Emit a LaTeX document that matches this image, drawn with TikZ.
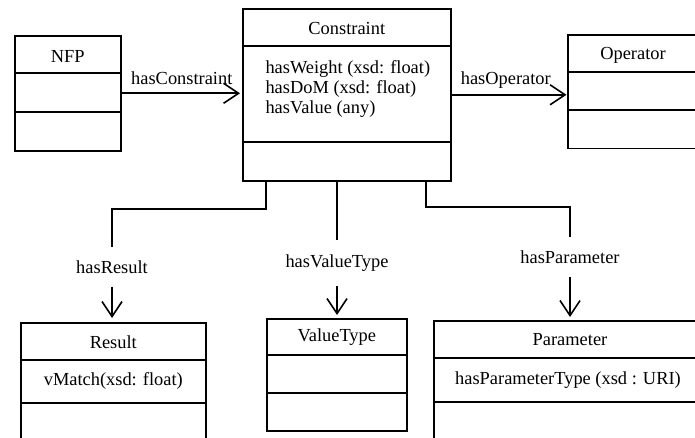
\documentclass[tikz,border=0pt]{standalone}
\usepackage{fontspec}
\setmainfont{Liberation Serif}
\usetikzlibrary{arrows.meta}
\begin{document}
\begin{tikzpicture}[x=1pt,y=-1pt,
  every node/.style={font=\fontsize{18.4}{20}\selectfont},
  cls/.style={draw, line width=1.6pt, rectangle, inner sep=0pt, anchor=north west},
  clsopen/.style={rectangle, inner sep=0pt, anchor=north west},
  divline/.style={line width=1.6pt},
  conn/.style={line width=1.6pt},
  arr/.style={conn, -{Straight Barb[length=15pt,width=20pt]}},
  lbl/.style={inner sep=0pt}
]
\useasboundingbox (0,0) rectangle (695,438);
\clip (0,0) rectangle (695,438);

% class boxes
\node[cls, minimum width=106pt, minimum height=115pt] (nfp) at (14,35) {};
\node[cls, minimum width=208pt, minimum height=172pt] (constraint) at (242,8) {};
\node[clsopen, minimum width=200pt, minimum height=113pt] (operator) at (568,35) {};
\draw[divline] (operator.north east) -- (operator.north west) -- (operator.south west) -- (operator.south east);
\node[cls, minimum width=185pt, minimum height=124pt] (result) at (20,322) {};
\node[cls, minimum width=140pt, minimum height=112pt] (valuetype) at (266,318) {};
\node[clsopen, minimum width=330pt, minimum height=124pt] (parameter) at (434,321) {};
\draw[divline] (parameter.north east) -- (parameter.north west) -- (parameter.south west);

% compartments
\draw[divline] ([yshift=-38pt]nfp.north west) -- ([yshift=-38pt]nfp.north east);
\draw[divline] ([yshift=-77pt]nfp.north west) -- ([yshift=-77pt]nfp.north east);
\draw[divline] ([yshift=-38pt]constraint.north west) -- ([yshift=-38pt]constraint.north east);
\draw[divline] ([yshift=-134pt]constraint.north west) -- ([yshift=-134pt]constraint.north east);
\draw[divline] ([yshift=-37pt]operator.north west) -- ([yshift=-37pt]operator.north east);
\draw[divline] ([yshift=-75pt]operator.north west) -- ([yshift=-75pt]operator.north east);
\draw[divline] ([yshift=-38pt]result.north west) -- ([yshift=-38pt]result.north east);
\draw[divline] ([yshift=-81pt]result.north west) -- ([yshift=-81pt]result.north east);
\draw[divline] ([yshift=-37pt]valuetype.north west) -- ([yshift=-37pt]valuetype.north east);
\draw[divline] ([yshift=-75pt]valuetype.north west) -- ([yshift=-75pt]valuetype.north east);
\draw[divline] ([yshift=-37pt]parameter.north west) -- ([yshift=-37pt]parameter.north east);
\draw[divline] ([yshift=-81pt]parameter.north west) -- ([yshift=-81pt]parameter.north east);

% titles and attributes
\node (nfpT) at ([yshift=-21pt]nfp.north) {NFP};
\node (constraintT) at ([yshift=-21pt]constraint.north) {Constraint};
\node[anchor=base west] (a1) at (262,74) {hasWeight (xsd: float)};
\node[anchor=base west] (a2) at (262,94) {hasDoM (xsd: float)};
\node[anchor=base west] (a3) at (262,114) {hasValue (any)};
\node (operatorT) at ([xshift=65pt,yshift=-20pt]operator.north west) {Operator};
\node (resultT) at ([yshift=-20pt]result.north) {Result};
\node (resultA) at ([yshift=-59pt]result.north) {vMatch(xsd: float)};
\node (valuetypeT) at ([yshift=-19pt]valuetype.north) {ValueType};
\node (parameterT) at ([xshift=136pt,yshift=-19pt]parameter.north west) {Parameter};
\node (parameterA) at ([xshift=134pt,yshift=-59pt]parameter.north west) {hasParameterType (xsd : URI)};

% horizontal associations
\draw[arr, shorten >=2pt] (nfp.east) -- node[midway, anchor=base, yshift=9pt] {hasConstraint} (nfp.east -| constraint.west);
\draw[arr, shorten >=1.5pt] (constraint.east) -- node[midway, anchor=base, yshift=10pt, xshift=-4pt] {hasOperator} (constraint.east -| operator.west);

% vertical associations
\node[lbl, minimum height=39pt] (lres) at (112,267) {hasResult};
\node[lbl, minimum height=46pt] (lvt) at (337,263) {hasValueType};
\node[lbl, minimum height=39pt] (lpar) at (570,257) {hasParameter};
\coordinate (k1) at (266,209);
\coordinate (k2) at (426,207);

\draw[conn] (constraint.south -| k1) -- (k1) -| (lres.north);
\draw[conn] (constraint.south -| lvt.north) -- (lvt.north);
\draw[conn] (constraint.south -| k2) -- (k2) -| (lpar.north);

\draw[arr, shorten >=4pt] (lres.south) -- (lres.south |- result.north);
\draw[arr, shorten >=3pt] (lvt.south) -- (lvt.south |- valuetype.north);
\draw[arr, shorten >=4pt] (lpar.south) -- (lpar.south |- parameter.north);
\end{tikzpicture}
\end{document}
